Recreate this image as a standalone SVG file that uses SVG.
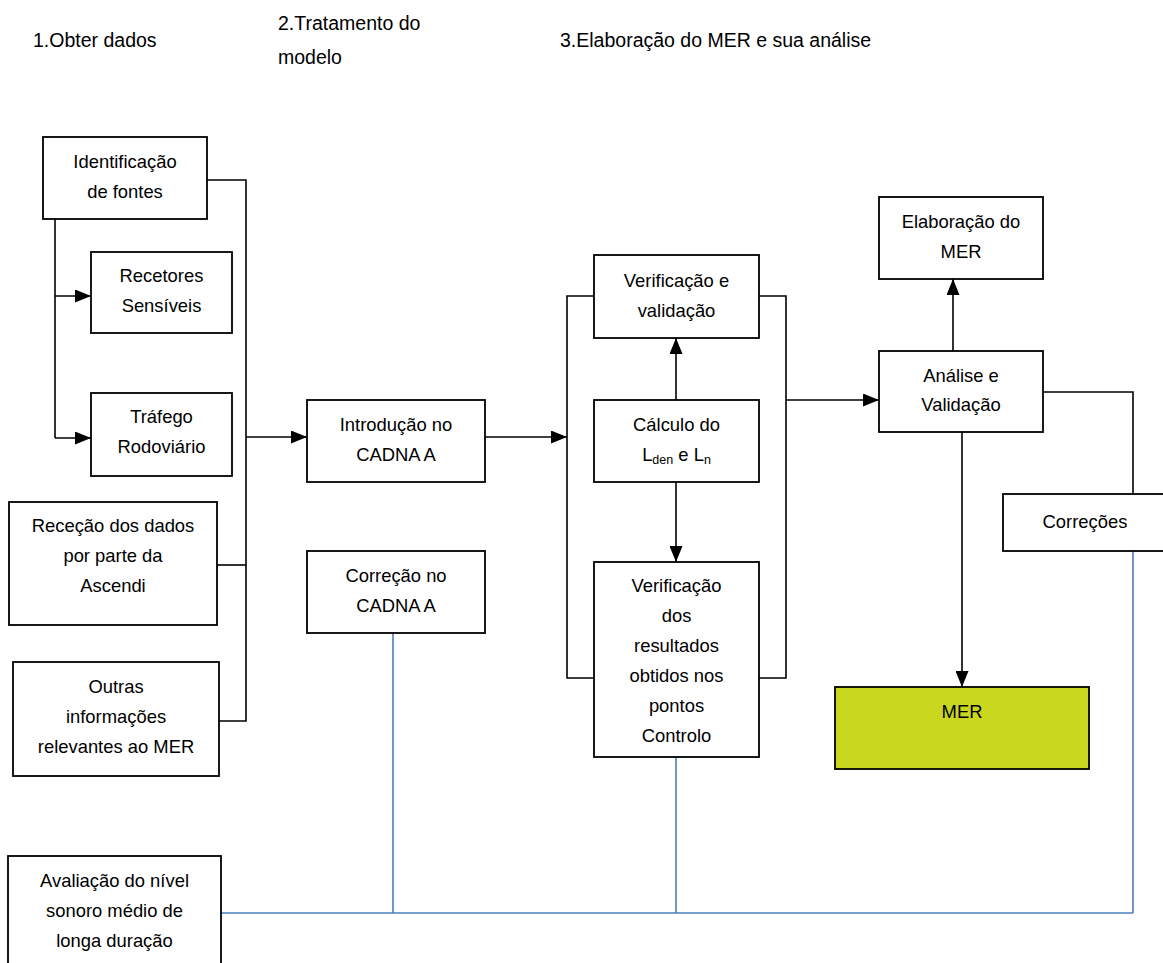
<svg xmlns="http://www.w3.org/2000/svg" width="1163" height="963" viewBox="0 0 1163 963">
  <defs>
    <style>
      .box { fill: #ffffff; stroke: #000000; stroke-width: 1.8; }
      .mer { fill: #c9d81f; stroke: #000000; stroke-width: 1.8; }
      .t { font-family: "Liberation Sans", Arial, sans-serif; font-size: 18.4px; text-anchor: middle; fill: #000000; }
      .h { font-family: "Liberation Sans", Arial, sans-serif; font-size: 19.5px; fill: #000000; }
      .sub { font-size: 12.5px; }
      .ln { fill: none; stroke: #000000; stroke-width: 1.6; }
      .arr { fill: none; stroke: #000000; stroke-width: 1.6; marker-end: url(#ah); }
      .blue { fill: none; stroke: #4a7ebb; stroke-width: 1.6; }
    </style>
    <marker id="ah" markerUnits="userSpaceOnUse" markerWidth="16" markerHeight="13" viewBox="0 0 16 13" refX="16" refY="6.5" orient="auto">
      <path d="M0,0 L16,6.5 L0,13 z" fill="#000000"/>
    </marker>
  </defs>

  <g id="headers">
    <text class="h" x="33" y="47">1.Obter dados</text>
    <text class="h" x="278" y="30">2.Tratamento do</text>
    <text class="h" x="278" y="64">modelo</text>
    <text class="h" x="560" y="47">3.Elaboração do MER e sua análise</text>
  </g>

  <g id="connectors">
    <!-- left collector -->
    <polyline class="ln" points="207,180 246,180 246,721 219,721"/>
    <line class="ln" x1="217" y1="565" x2="246" y2="565"/>
    <line class="arr" x1="246" y1="437" x2="307" y2="437"/>
    <!-- Identificação branch -->
    <polyline class="ln" points="55,219 55,438"/>
    <line class="arr" x1="55" y1="296" x2="91" y2="296"/>
    <line class="arr" x1="55" y1="438" x2="91" y2="438"/>
    <!-- Introdução to loop -->
    <line class="arr" x1="485" y1="437" x2="567" y2="437"/>
    <!-- loop -->
    <polyline class="ln" points="594,296 567,296 567,678 594,678"/>
    <polyline class="ln" points="759,296 786,296 786,678 759,678"/>
    <line class="arr" x1="676" y1="400" x2="676" y2="338"/>
    <line class="arr" x1="676" y1="482" x2="676" y2="562"/>
    <line class="arr" x1="786" y1="400" x2="879" y2="400"/>
    <!-- Análise -->
    <line class="arr" x1="953" y1="351" x2="953" y2="279"/>
    <line class="arr" x1="962" y1="432" x2="962" y2="687"/>
    <polyline class="ln" points="1043,392 1133,392 1133,494"/>
    <!-- blue feedback -->
    <line class="blue" x1="221" y1="913" x2="1133" y2="913"/>
    <line class="blue" x1="393" y1="633" x2="393" y2="913"/>
    <line class="blue" x1="676" y1="757" x2="676" y2="913"/>
    <line class="blue" x1="1133" y1="551" x2="1133" y2="913"/>
  </g>

  <g id="n-identificacao">
    <rect class="box" x="43" y="137" width="164" height="82"/>
    <text class="t" x="125" y="168">Identificação</text>
    <text class="t" x="125" y="198">de fontes</text>
  </g>
  <g id="n-recetores">
    <rect class="box" x="91" y="252" width="141" height="81"/>
    <text class="t" x="161.5" y="282">Recetores</text>
    <text class="t" x="161.5" y="312">Sensíveis</text>
  </g>
  <g id="n-trafego">
    <rect class="box" x="91" y="393" width="141" height="83"/>
    <text class="t" x="161.5" y="423">Tráfego</text>
    <text class="t" x="161.5" y="453">Rodoviário</text>
  </g>
  <g id="n-rececao">
    <rect class="box" x="9" y="502" width="208" height="123"/>
    <text class="t" x="113" y="532">Receção dos dados</text>
    <text class="t" x="113" y="562">por parte da</text>
    <text class="t" x="113" y="592">Ascendi</text>
  </g>
  <g id="n-outras">
    <rect class="box" x="13" y="662" width="206" height="114"/>
    <text class="t" x="116" y="693">Outras</text>
    <text class="t" x="116" y="723">informações</text>
    <text class="t" x="116" y="753">relevantes ao MER</text>
  </g>
  <g id="n-introducao">
    <rect class="box" x="307" y="400" width="178" height="82"/>
    <text class="t" x="396" y="431">Introdução no</text>
    <text class="t" x="396" y="461">CADNA A</text>
  </g>
  <g id="n-correcao">
    <rect class="box" x="307" y="551" width="178" height="82"/>
    <text class="t" x="396" y="582">Correção no</text>
    <text class="t" x="396" y="612">CADNA A</text>
  </g>
  <g id="n-verificacao">
    <rect class="box" x="594" y="255" width="165" height="83"/>
    <text class="t" x="676.5" y="287">Verificação e</text>
    <text class="t" x="676.5" y="317">validação</text>
  </g>
  <g id="n-calculo">
    <rect class="box" x="594" y="400" width="165" height="82"/>
    <text class="t" x="676.5" y="431">Cálculo do</text>
    <text class="t" x="676.5" y="461">L<tspan class="sub" dy="3">den</tspan><tspan dy="-3"> e L</tspan><tspan class="sub" dy="3">n</tspan></text>
  </g>
  <g id="n-resultados">
    <rect class="box" x="594" y="562" width="165" height="195"/>
    <text class="t" x="676.5" y="592">Verificação</text>
    <text class="t" x="676.5" y="622">dos</text>
    <text class="t" x="676.5" y="652">resultados</text>
    <text class="t" x="676.5" y="682">obtidos nos</text>
    <text class="t" x="676.5" y="712">pontos</text>
    <text class="t" x="676.5" y="742">Controlo</text>
  </g>
  <g id="n-elaboracao">
    <rect class="box" x="879" y="197" width="164" height="82"/>
    <text class="t" x="961" y="228">Elaboração do</text>
    <text class="t" x="961" y="258">MER</text>
  </g>
  <g id="n-analise">
    <rect class="box" x="879" y="351" width="164" height="81"/>
    <text class="t" x="961" y="382">Análise e</text>
    <text class="t" x="961" y="411">Validação</text>
  </g>
  <g id="n-correcoes">
    <rect class="box" x="1003" y="494" width="164" height="57"/>
    <text class="t" x="1085" y="528">Correções</text>
  </g>
  <g id="n-mer">
    <rect class="mer" x="835" y="687" width="254" height="82"/>
    <text class="t" x="962" y="718">MER</text>
  </g>
  <g id="n-avaliacao">
    <rect class="box" x="8" y="856" width="213" height="120"/>
    <text class="t" x="114.5" y="887">Avaliação do nível</text>
    <text class="t" x="114.5" y="917">sonoro médio de</text>
    <text class="t" x="114.5" y="947">longa duração</text>
  </g>
</svg>
